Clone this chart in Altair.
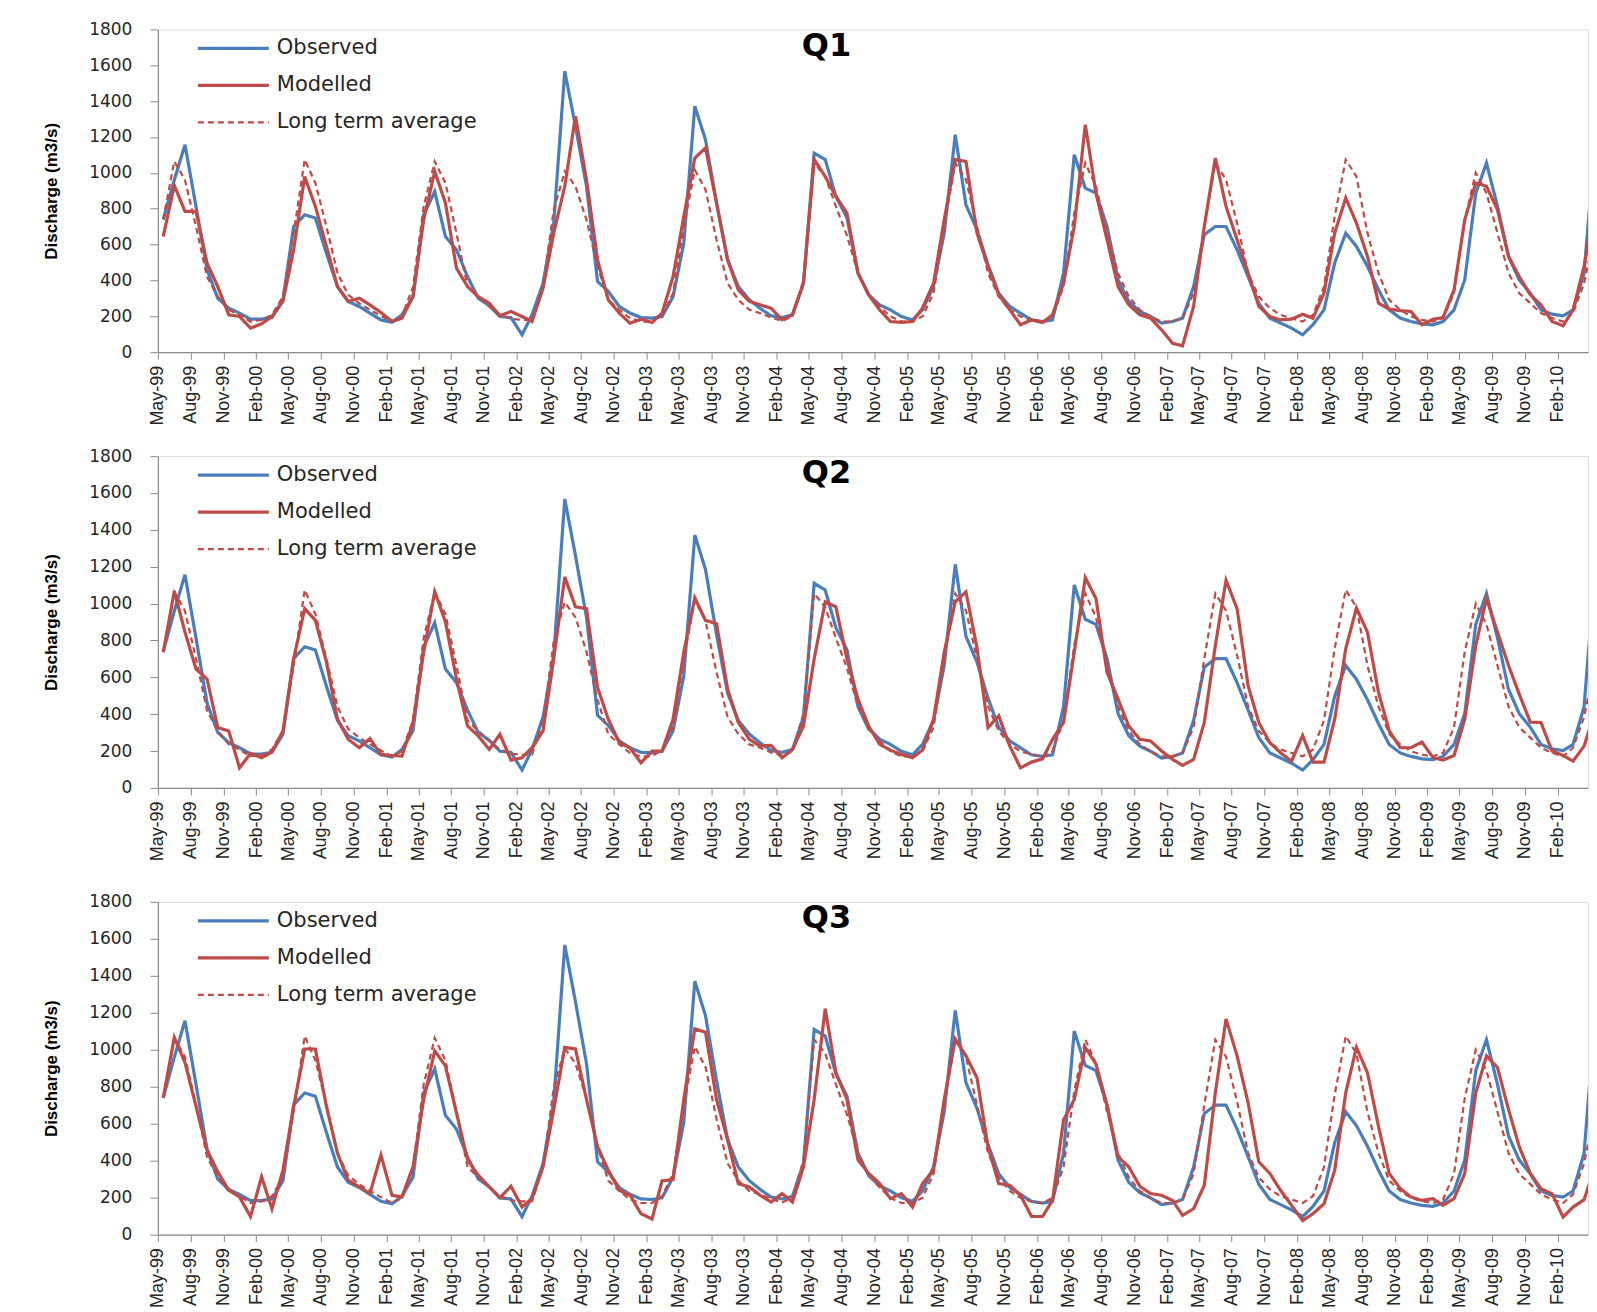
import altair as alt
import pandas as pd

# ---------------- data (monthly, May-1999 onwards) ----------------
START = "1999-05-01"
N_MONTHS = 133
MONTHS = [d.strftime("%Y-%m-%d") for d in pd.date_range(START, periods=N_MONTHS, freq="MS")]

OBSERVED = [740, 960, 1157, 812, 460, 301, 245, 218, 184, 184, 193, 292,
            701, 766, 748, 552, 366, 283, 255, 218, 180, 167, 208, 310,
            766, 896, 645, 571, 422, 301, 259, 199, 193, 97, 208, 385,
            720, 1567, 1260, 925, 394, 339, 255, 218, 193, 190, 199, 310,
            608, 1371, 1185, 832, 515, 366, 292, 245, 203, 193, 208, 385,
            1110, 1074, 869, 750, 441, 320, 264, 236, 199, 180, 236, 366,
            664, 1213, 822, 683, 487, 329, 255, 218, 180, 171, 180, 441,
            1101, 915, 887, 701, 403, 283, 227, 199, 162, 171, 190, 366,
            655, 701, 701, 571, 422, 273, 190, 162, 134, 97, 153, 236,
            497, 664, 590, 478, 348, 236, 190, 171, 158, 153, 171, 236,
            403, 887, 1055, 813, 534, 403, 329, 236, 212, 203, 236, 441,
            1166]

LONG_TERM = [740, 1064, 960, 700, 420, 310, 236, 208, 171, 180, 208, 310,
             664, 1074, 943, 701, 441, 320, 273, 236, 203, 171, 199, 366,
             813, 1064, 943, 664, 366, 310, 255, 208, 186, 180, 180, 366,
             794, 1008, 925, 738, 478, 292, 236, 190, 171, 171, 208, 329,
             701, 1017, 906, 627, 385, 292, 236, 218, 193, 175, 199, 403,
             1055, 980, 813, 650, 441, 320, 255, 199, 171, 171, 199, 329,
             701, 1055, 962, 701, 441, 310, 236, 199, 180, 171, 199, 366,
             776, 1055, 925, 664, 441, 310, 236, 199, 171, 171, 190, 329,
             701, 1055, 962, 720, 441, 310, 245, 208, 190, 171, 208, 366,
             757, 1074, 980, 664, 441, 292, 236, 199, 180, 171, 190, 329,
             738, 1000, 887, 664, 441, 329, 273, 218, 190, 171, 218, 385,
             664]

MODELLED_Q1 = [645, 930, 785, 785, 496, 366, 208, 199, 134, 158, 199, 283,
               571, 980, 813, 590, 366, 283, 301, 264, 221, 171, 190, 310,
               738, 1008, 832, 469, 366, 310, 273, 203, 227, 199, 171, 357,
               664, 925, 1316, 962, 515, 292, 218, 162, 184, 166, 218, 422,
               757, 1083, 1139, 832, 515, 348, 283, 264, 245, 180, 208, 385,
               1074, 980, 869, 776, 441, 320, 236, 171, 166, 171, 245, 385,
               738, 1074, 1064, 664, 478, 320, 236, 153, 180, 166, 208, 385,
               701, 1269, 887, 627, 366, 264, 208, 190, 125, 50, 35, 255,
               701, 1083, 813, 627, 441, 255, 199, 180, 184, 212, 190, 329,
               664, 860, 720, 534, 273, 240, 232, 227, 153, 184, 193, 348,
               738, 943, 925, 794, 534, 422, 320, 264, 171, 147, 236, 478,
               832]

MODELLED_Q2 = [736, 1067, 845, 645, 591, 327, 309, 109, 187, 164, 195, 309,
               700, 973, 909, 682, 373, 264, 218, 267, 182, 176, 173, 355,
               736, 1064, 900, 591, 336, 282, 209, 291, 151, 164, 218, 309,
               700, 1145, 982, 973, 545, 373, 245, 218, 136, 200, 200, 373,
               736, 1031, 909, 891, 536, 355, 264, 227, 231, 164, 209, 336,
               700, 1009, 982, 700, 482, 336, 236, 205, 182, 164, 205, 373,
               736, 1009, 1064, 760, 327, 391, 227, 109, 140, 158, 264, 355,
               736, 1140, 1027, 627, 482, 336, 264, 255, 200, 155, 122, 155,
               355, 773, 1127, 973, 555, 355, 245, 191, 145, 285, 140, 140,
               373, 755, 976, 845, 518, 309, 218, 218, 249, 164, 151, 176,
               373, 773, 1027, 845, 664, 509, 357, 355, 200, 176, 145, 227,
               409]

MODELLED_Q3 = [740, 1067, 931, 694, 458, 340, 240, 204, 98, 313, 140, 349,
               694, 1004, 1004, 694, 440, 295, 258, 222, 431, 213, 204, 367,
               731, 994, 913, 658, 404, 322, 258, 200, 262, 149, 195, 367,
               676, 1013, 1004, 731, 476, 349, 240, 213, 113, 85, 291, 298,
               731, 1113, 1095, 731, 513, 276, 258, 213, 176, 222, 176, 367,
               731, 1222, 876, 731, 404, 331, 276, 195, 222, 149, 276, 349,
               731, 1058, 967, 849, 476, 276, 267, 213, 98, 98, 185, 622,
               731, 1013, 922, 700, 420, 367, 262, 222, 213, 185, 104, 140,
               267, 767, 1167, 967, 713, 394, 331, 240, 158, 76, 113, 167,
               349, 767, 1013, 876, 585, 331, 249, 204, 185, 195, 158, 195,
               331, 767, 967, 904, 676, 476, 331, 249, 222, 95, 149, 189,
               367]

PANELS = ["Q1", "Q2", "Q3"]
MODELLED = {"Q1": MODELLED_Q1, "Q2": MODELLED_Q2, "Q3": MODELLED_Q3}
SERIES = ["Observed", "Modelled", "Long term average"]
Y_TICKS = list(range(0, 1801, 200))
# tick labels every third month: May-99, Aug-99, ... Feb-10
TICK_MONTHS = MONTHS[0:130:3]

# ---------------- styling ----------------
BLUE = "#4A7EBB"
RED = "#BE4B48"
AXIS_GREY = "#8C8C8C"
TEXT = "#262626"
PX_PER_MONTH = 10.86
PLOT_W = 1431


def dt(s):
    y, m, d = (int(v) for v in s.split("-"))
    return alt.DateTime(year=y, month=m, date=d, utc=True)


def panel(name, plot_h):
    df_obs = pd.DataFrame({"date": MONTHS, "value": OBSERVED})
    df_mod = pd.DataFrame({"date": MONTHS, "value": MODELLED[name]})
    df_lta = pd.DataFrame({"date": MONTHS, "value": LONG_TERM})

    x = alt.X(
        "date:T",
        title=None,
        scale=alt.Scale(type="utc", domain=[dt("1999-04-16"), dt("2010-04-12")]),
        axis=alt.Axis(
            values=[dt(m) for m in TICK_MONTHS],
            format="%b-%y",
            labelAngle=270,
            labelFont="Liberation Sans",
            labelFontSize=18,
            labelColor=TEXT,
            labelPadding=6,
            labelOverlap=False,
            tickSize=7,
            tickOffset=-PX_PER_MONTH / 2,
            tickColor=AXIS_GREY,
            domainColor=AXIS_GREY,
            domainWidth=1.2,
            grid=False,
        ),
    )
    y = alt.Y(
        "value:Q",
        scale=alt.Scale(domain=[0, 1800], nice=False),
        axis=alt.Axis(
            title="Discharge (m3/s)",
            titleFont="Liberation Sans",
            titleFontSize=17,
            titleFontWeight="bold",
            titleColor="#000000",
            titleX=-106,
            titleBaseline="middle",
            values=Y_TICKS,
            format="d",
            labelFont="DejaVu Sans",
            labelFontSize=17,
            labelColor=TEXT,
            labelPadding=18,
            tickSize=8,
            tickColor=AXIS_GREY,
            domainColor=AXIS_GREY,
            domainWidth=1.2,
            grid=False,
        ),
    )

    obs = alt.Chart(df_obs).mark_line(color=BLUE, strokeWidth=3.2, clip=True).encode(x=x, y=y)
    mod = alt.Chart(df_mod).mark_line(color=RED, strokeWidth=3.2, clip=True).encode(x=x, y=y)
    lta = alt.Chart(df_lta).mark_line(
        color=RED, strokeWidth=2.2, strokeDash=[6, 4], clip=True
    ).encode(x=x, y=y)

    # legend drawn inside the plot (top-left)
    legend_layers = []
    styles = [(BLUE, 3.2, None), (RED, 3.2, None), (RED, 2.2, [6, 4])]
    for k, (label, (col, w, dash)) in enumerate(zip(SERIES, styles)):
        ly = 19 + 37 * k
        src = alt.Chart(alt.Data(values=[{"name": label}]))
        rule_kwargs = dict(color=col, strokeWidth=w)
        if dash:
            rule_kwargs["strokeDash"] = dash
        legend_layers.append(
            src.mark_rule(**rule_kwargs).encode(
                x=alt.value(40), x2=alt.value(111), y=alt.value(ly)
            )
        )
        legend_layers.append(
            src.mark_text(
                align="left", baseline="middle", font="DejaVu Sans",
                fontSize=21, color=TEXT
            ).encode(x=alt.value(119), y=alt.value(ly), text="name:N")
        )

    title = alt.Chart(alt.Data(values=[{"t": name}])).mark_text(
        align="center", baseline="middle", font="DejaVu Sans",
        fontSize=32, fontWeight="bold", color="#000000"
    ).encode(x=alt.value(669), y=alt.value(16.5), text="t:N")

    return alt.layer(obs, mod, lta, title, *legend_layers).properties(
        width=PLOT_W, height=plot_h
    )


p1 = panel("Q1", 323)
p2 = panel("Q2", 332)
p3 = panel("Q3", 333)

chart = alt.vconcat(
    p1,
    alt.vconcat(p2, p3, spacing=30),
    spacing=20,
).properties(
    padding={"left": 34, "top": 11, "right": 0, "bottom": 0}
).configure_view(stroke=None).configure(background="white")

chart.save("out.html", embed_options={"renderer": "svg", "actions": False})
